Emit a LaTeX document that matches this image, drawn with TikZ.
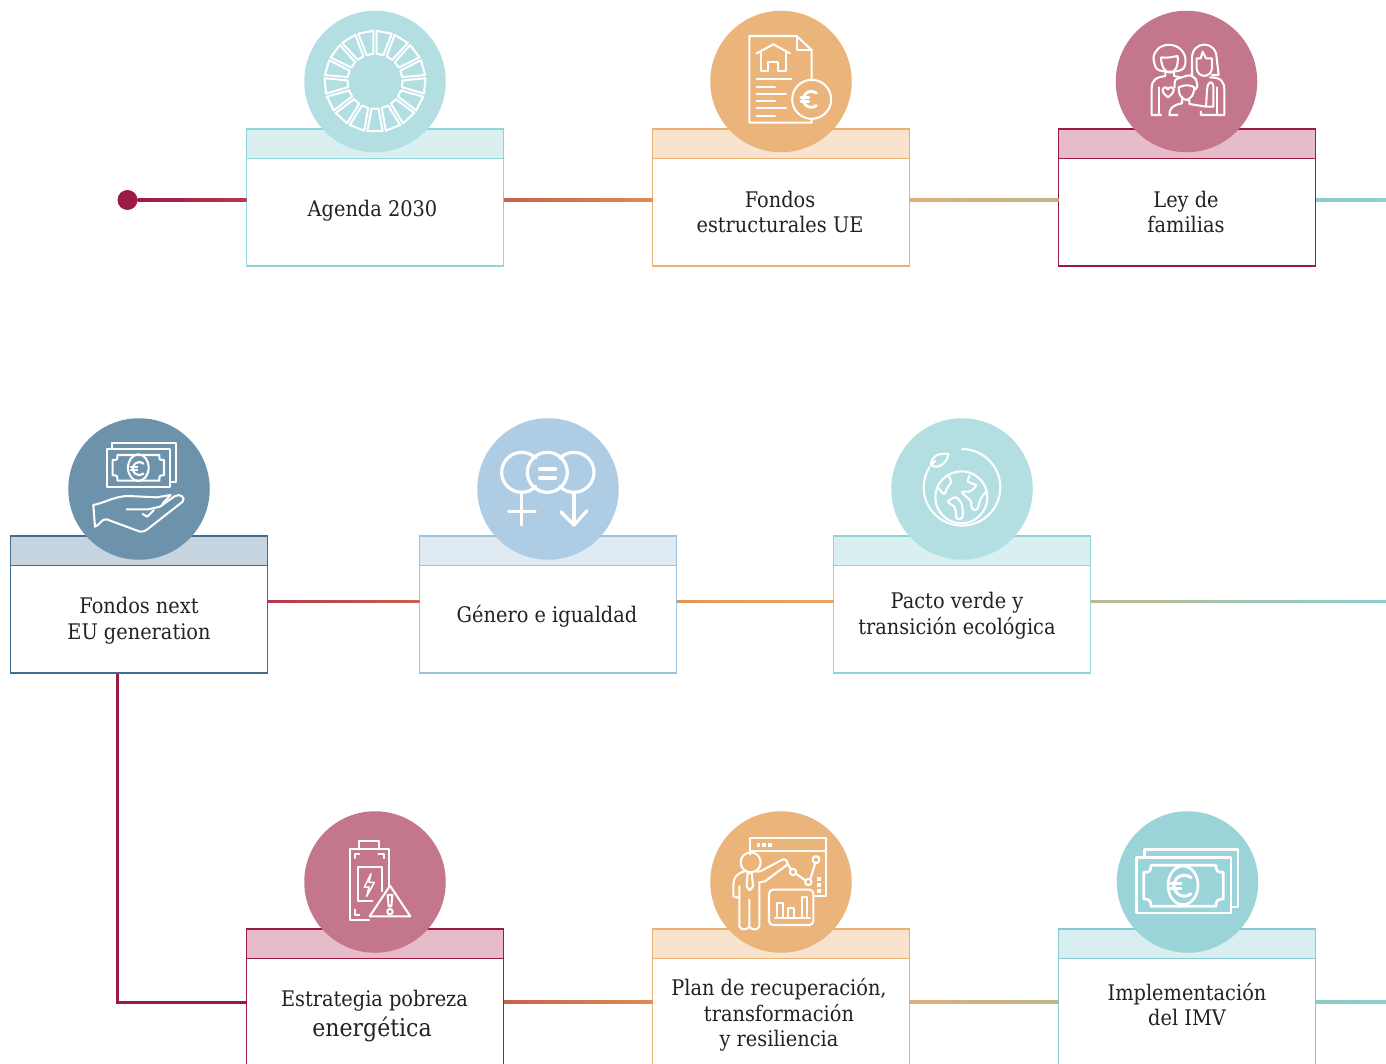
\documentclass[tikz,border=0pt]{standalone}
\usepackage{fontspec}
\setmainfont[FakeStretch=0.9]{DejaVu Serif}
\usetikzlibrary{calc}
\definecolor{tealC}{HTML}{B3DFE2}\definecolor{tealH}{HTML}{DAEFF0}\definecolor{tealB}{HTML}{90D3D9}
\definecolor{orC}{HTML}{EBB47A}\definecolor{orH}{HTML}{F7E3CE}\definecolor{orB}{HTML}{EBB172}
\definecolor{roC}{HTML}{C4778C}\definecolor{roH}{HTML}{E5BCC8}\definecolor{roB}{HTML}{9B1B46}
\definecolor{dbC}{HTML}{6D92AB}\definecolor{dbH}{HTML}{C6D4DF}\definecolor{dbB}{HTML}{3F6E91}
\definecolor{lbC}{HTML}{AECCE3}\definecolor{lbH}{HTML}{E0EAF3}\definecolor{lbB}{HTML}{9CC3DE}
\definecolor{tqC}{HTML}{9AD4D8}\definecolor{tqH}{HTML}{D9EEF0}\definecolor{tqB}{HTML}{85CBD1}
\definecolor{ink}{HTML}{222222}
\definecolor{g1}{HTML}{9B1B46}\definecolor{g2}{HTML}{B5374F}\definecolor{g3}{HTML}{C4634E}
\definecolor{g4}{HTML}{E08A55}\definecolor{g5}{HTML}{DDAE78}\definecolor{g6}{HTML}{BDB88E}
\definecolor{g7}{HTML}{8DCBC5}\definecolor{g8}{HTML}{8CCFD0}\definecolor{g9}{HTML}{E0985A}\definecolor{g10}{HTML}{E8A566}
\tikzset{
 cardbody/.style={rectangle,draw=#1,fill=white,line width=1.25pt,minimum width=257.5pt,minimum height=107.5pt,inner sep=0pt,outer sep=0pt},
 cardhead/.style={rectangle,line width=1.25pt,minimum width=257.5pt,minimum height=29.5pt,inner sep=0pt,outer sep=0pt},
 disc/.style={circle,minimum size=141.5pt,inner sep=0pt,outer sep=0pt},
 label/.style={text=ink,align=center,inner sep=0pt,font=\fontsize{21.5pt}{25.6pt}\selectfont},
 icon/.style={shift={#1},x=0.33333pt,y=-0.33333pt,white,line width=2.05pt,line cap=round,line join=round},
}
% name, x centre, y of header top, theme, circle x, circle y
\newcommand\card[6]{%
 \node[cardbody=#4B] (#1) at (#2,#3+29.5+53.75) {};
 \node[cardhead,draw=#4B,fill=#4H] (#1h) at (#2,#3+14.75) {};
 \node[disc,fill=#4C] (#1c) at (#5,#6) {};
}
\newcommand\gradcon[4]{%
 \draw[line width=2.2pt,color=#3!50!#4] (#1) -- (#2);
 \shade[left color=#3,right color=#4] ($(#1)+(0,-1.1)$) rectangle ($(#2)+(0,1.1)$);
}
\newcommand\iconeuro[4][2.2pt]{%
 \draw[line width=#1] (#2,#3) ++(50:#4pt) arc[start angle=50,end angle=310,radius=#4pt];
 \draw[line width=#1] (#2,#3) ++(-1.3*#4pt,0.24*#4pt) -- ++(1.0*#4pt,0pt);
 \draw[line width=#1] (#2,#3) ++(-1.3*#4pt,-0.24*#4pt) -- ++(1.0*#4pt,0pt);
}
\begin{document}
\begin{tikzpicture}[x=1pt,y=-1pt]
\useasboundingbox (0,0) rectangle (1386,1064);
\fill[white] (0,0) rectangle (1386,1064);
\coordinate (railA) at (0,200);
\coordinate (railB) at (0,601.5);
\coordinate (railC) at (0,1002);
\coordinate (endA) at (1386,200);
\coordinate (endB) at (1386,601.5);
\coordinate (endC) at (1386,1002);
% cards
\card{agenda}{375}{129}{teal}{375}{81.5}
\card{fondos}{781}{129}{or}{781}{81.5}
\card{ley}{1187}{129}{ro}{1186.5}{81.5}
\card{next}{139}{536}{db}{139}{489}
\card{genero}{548}{536}{lb}{548}{489}
\card{pacto}{962}{536}{teal}{962}{489}
\card{pobreza}{375}{929}{ro}{375}{882}
\card{plan}{781}{929}{or}{781}{882}
\card{imv}{1187}{929}{tq}{1187.5}{882}
% connectors
\node[circle,fill=g1,minimum size=20pt,inner sep=0pt,outer sep=0pt] (start) at (127.5,200) {};
\gradcon{start.east}{agenda.west |- railA}{g1}{g2}
\gradcon{agenda.east |- railA}{fondos.west |- railA}{g3}{g4}
\gradcon{fondos.east |- railA}{ley.west |- railA}{g5}{g6}
\gradcon{ley.east |- railA}{endA}{g7}{g8}
\gradcon{next.east |- railB}{genero.west |- railB}{g2}{g3}
\gradcon{genero.east |- railB}{pacto.west |- railB}{g9}{g10}
\gradcon{pacto.east |- railB}{endB}{g6}{g8}
\gradcon{pobreza.east |- railC}{plan.west |- railC}{g3}{g4}
\gradcon{plan.east |- railC}{imv.west |- railC}{g5}{g6}
\gradcon{imv.east |- railC}{endC}{g7}{g8}
\coordinate (dropTop) at (117,674);
\draw[g1,line width=3pt,line join=miter] (dropTop) |- (pobreza.west |- railC);
% texts
\node[label] (t1) at (372.5,211) {Agenda 2030};
\node[label] (t2) at (780,212) {Fondos\\estructurales UE};
\node[label] (t3) at (1186,212) {Ley de\\familias};
\node[label] (t4) at (139,621) {Fondos next\\EU generation};
\node[label] (t5) at (547,616) {Género e igualdad};
\node[label] (t6) at (957,616) {Pacto verde y\\transición ecológica};
\node[label] (t7) at (374.5,1001) {Estrategia pobreza};
\node[label,font=\fontsize{24.5pt}{26pt}\selectfont] (t7b) at (372,1029) {energética};
\node[label] (t8) at (779,1015) {Plan de recuperación,\\transformación\\y resiliencia};
\node[label] (t9) at (1187,1004.5) {Implementación\\del IMV};
% ---- icon: SDG wheel
\begin{scope}[shift={(375,81.3)},white,line width=2pt,line join=round]
\foreach \i in {0,...,16}{
 \pgfmathsetmacro\a{-90+\i*360/17}
 \draw (\a-7:27.5pt) -- (\a-8.8:50.5pt) -- (\a+8.8:50.5pt) -- (\a+7:27.5pt) -- cycle;
}
\end{scope}
% ---- icon: document
\begin{scope}[icon={(700,0)}]
\draw (335,240) -- (335,150) -- (290,108) -- (148,108) -- (148,368) -- (335,368) -- (335,358);
\draw (290,108) -- (290,150) -- (335,150);
\draw (170,160) -- (220,133) -- (270,160);
\draw (182,155) -- (182,212) -- (205,212) -- (205,185) -- (235,185) -- (235,212) -- (258,212) -- (258,155);
\draw (170,238) -- (275,238);
\draw (170,260) -- (225,260);
\draw (170,282) -- (258,282);
\draw (170,303) -- (225,303);
\draw (170,325) -- (258,325);
\draw (170,347) -- (225,347);
\draw (335,298) circle[radius=19.5pt];
\iconeuro[2.8pt]{334}{298}{8}
\end{scope}
% ---- icon: family
\begin{scope}[icon={(1106,0)}]
\draw plot[smooth cycle,tension=0.7] coordinates {(163,212)(145,190)(146,160)(170,138)(205,137)(232,158)(238,190)(220,212)};
\draw (165,172) .. controls (190,175) and (200,170) .. (215,168) (165,172) .. controls (165,200) and (178,218) .. (192,218) .. controls (206,218) and (218,200) .. (215,168);
\draw (178,216) -- (178,228) .. controls (150,232) and (137,240) .. (137,265) -- (137,345) -- (165,345);
\draw (204,216) -- (204,228) -- (222,232);
\draw (160,262) -- (160,345);
\draw (258,228) -- (258,175) .. controls (258,120) and (332,120) .. (332,175) -- (338,225) -- (318,225);
\draw (272,175) -- (272,205) .. controls (275,235) and (315,235) .. (318,205) -- (318,175) -- (300,175) -- (290,155) -- (284,175) -- (272,175);
\draw (312,232) .. controls (345,232) and (355,245) .. (355,270) -- (355,345) -- (285,345) -- (285,335);
\draw (332,262) -- (332,345);
\draw plot[smooth] coordinates {(206,262)(208,240)(228,232)(250,226)(268,236)(274,258)(268,268)};
\draw plot[smooth] coordinates {(218,262)(222,285)(240,300)(258,288)(264,262)(240,256)(218,262)};
\draw (228,298) -- (228,310) .. controls (200,315) and (190,325) .. (190,345) -- (215,345);
\draw (250,300) -- (250,312) -- (300,320) -- (312,320);
\draw (300,320) -- (303,270) .. controls (305,240) and (322,240) .. (322,262) -- (322,320) -- (312,320);
\draw (170,268) .. controls (175,258) and (185,262) .. (186,268) .. controls (188,262) and (200,258) .. (203,268) .. controls (204,278) and (195,285) .. (186,292) .. controls (178,285) and (168,278) .. (170,268);
\end{scope}
% ---- icon: hand and money
\begin{scope}[icon={(60,410)}]
\draw (155,115) -- (155,100) -- (347,100) -- (347,215) -- (330,215);
\draw (140,116) rectangle (330,232);
\draw (172,135) -- (298,135) .. controls (298,150) and (298,150) .. (312,150) -- (312,196) .. controls (298,196) and (298,196) .. (298,212) -- (172,212) .. controls (172,196) and (172,196) .. (158,196) -- (158,150) .. controls (172,150) and (172,150) .. (172,135);
\draw (235,173) ellipse[x radius=31,y radius=-40];
\iconeuro[2.1pt]{238}{176}{6.5}
\draw (100,285) -- (105,350) .. controls (120,345) and (125,325) .. (140,328) -- (240,365) .. controls (250,367) and (255,362) .. (262,358) -- (368,275) .. controls (378,262) and (360,250) .. (345,258) -- (300,290) -- (265,298) -- (200,298);
\draw (100,285) .. controls (130,280) and (165,258) .. (205,258) -- (290,262) -- (332,255) -- (308,280);
\draw (248,312) -- (262,320) -- (282,300);
\end{scope}
% ---- icon: gender equality
\begin{scope}[icon={(470,410)},line width=3.2pt]
\draw (155,187) ++(45:20pt) arc[start angle=45,end angle=315,radius=20pt];
\draw (312,187) ++(225:20pt) arc[start angle=225,end angle=495,radius=20pt];
\draw (232,187) circle[radius=20pt];
\draw[line width=4.2pt] (210,177) -- (255,177);
\draw[line width=4.2pt] (210,203) -- (255,203);
\draw (155,250) -- (155,345);
\draw (116,305) -- (195,305);
\draw (312,250) -- (312,345);
\draw (272,305) -- (312,345) -- (351,302);
\end{scope}
% ---- icon: globe
\begin{scope}[icon={(882,410)}]
\draw (240,232) ++(90:38.3pt) arc[start angle=90,end angle=-212,radius=38.3pt];
\draw (200,132) .. controls (165,128) and (148,140) .. (147,165) .. controls (165,178) and (192,165) .. (200,132);
\draw (147,165) -- (160,152);
\draw (238,262) circle[radius=26pt];
\draw plot[smooth,tension=0.5] coordinates {(198,195)(207,215)(195,235)(186,252)(170,235)};
\draw plot[smooth,tension=0.5] coordinates {(263,197)(258,215)(282,226)(264,244)(240,247)(265,272)(270,295)(285,298)(297,265)(315,242)};
\draw plot[smooth cycle,tension=0.5] coordinates {(198,275)(222,262)(240,285)(241,322)(225,326)(218,292)};
\end{scope}
% ---- icon: battery
\begin{scope}[icon={(295,803)}]
\draw (283,252) -- (283,138) -- (165,138) -- (165,350) -- (222,350);
\draw (193,138) -- (193,115) -- (252,115) -- (252,138);
\draw (180,165) -- (180,152) -- (193,152);
\draw (250,152) -- (267,152) -- (267,165);
\draw (180,320) -- (180,335) -- (193,335);
\draw (262,265) -- (262,192) -- (190,192) -- (190,295) -- (232,295);
\draw[line width=1.5pt] (228,212) -- (208,252) -- (222,252) -- (215,280) -- (238,238) -- (222,238) -- cycle;
\draw (285,248) -- (346,340) -- (224,340) -- cycle;
\draw (278,276) -- (292,276) -- (289,310) -- (281,310) -- cycle;
\draw (285,326) circle[radius=2.7pt];
\end{scope}
% ---- icon: presenter
\begin{scope}[icon={(700,803)}]
\draw (150,155) -- (150,105) -- (378,105) -- (378,280) -- (345,280);
\draw (150,143) -- (378,143);
\fill (170,120) rectangle (180,131);
\fill (187,120) rectangle (197,131);
\fill (205,120) rectangle (215,131);
\fill (351,221) rectangle (363,233);
\fill (351,240) rectangle (363,252);
\fill (351,259) rectangle (363,271);
\draw (152,178) circle[radius=10pt];
\draw (262,180) -- (272,198);
\draw (287,212) -- (315,231);
\draw (331,228) -- (345,182);
\draw (279,207) circle[radius=3.2pt];
\draw (325,237) circle[radius=3.2pt];
\draw (348,170) circle[radius=3.5pt];
\draw (135,205) .. controls (110,210) and (100,225) .. (100,245) -- (100,280) -- (118,285);
\draw (118,250) -- (118,370) .. controls (120,382) and (145,382) .. (148,370) -- (148,290) -- (148,370) .. controls (150,382) and (176,382) .. (178,370) -- (178,238);
\draw (178,238) -- (195,235) -- (262,185) .. controls (265,170) and (250,165) .. (243,172) -- (183,204) -- (170,206);
\draw (143,210) -- (155,210) -- (159,250) -- (149,262) -- (140,250) -- cycle;
\draw[rounded corners=4pt] (207,260) rectangle (340,366);
\draw (232,345) -- (232,300) -- (250,300) -- (250,345);
\draw (265,345) -- (265,315) -- (282,315) -- (282,345);
\draw (305,345) -- (305,282) -- (322,282) -- (322,345);
\draw (225,345) -- (330,345);
\end{scope}
% ---- icon: banknotes
\begin{scope}[icon={(1106,803)},line width=2.7pt]
\draw (115,160) -- (115,139) -- (396,139) -- (396,312) -- (375,312);
\draw (91,163) rectangle (375,330);
\draw (135,187) -- (330,187) .. controls (330,205) and (335,208) .. (352,208) -- (352,288) .. controls (335,288) and (330,292) .. (330,310) -- (135,310) .. controls (135,292) and (130,288) .. (113,288) -- (113,208) .. controls (130,208) and (135,205) .. (135,187);
\draw (231,247) ellipse[x radius=45,y radius=-58];
\iconeuro[3pt]{235}{248}{10.5}
\end{scope}
\end{tikzpicture}
\end{document}
